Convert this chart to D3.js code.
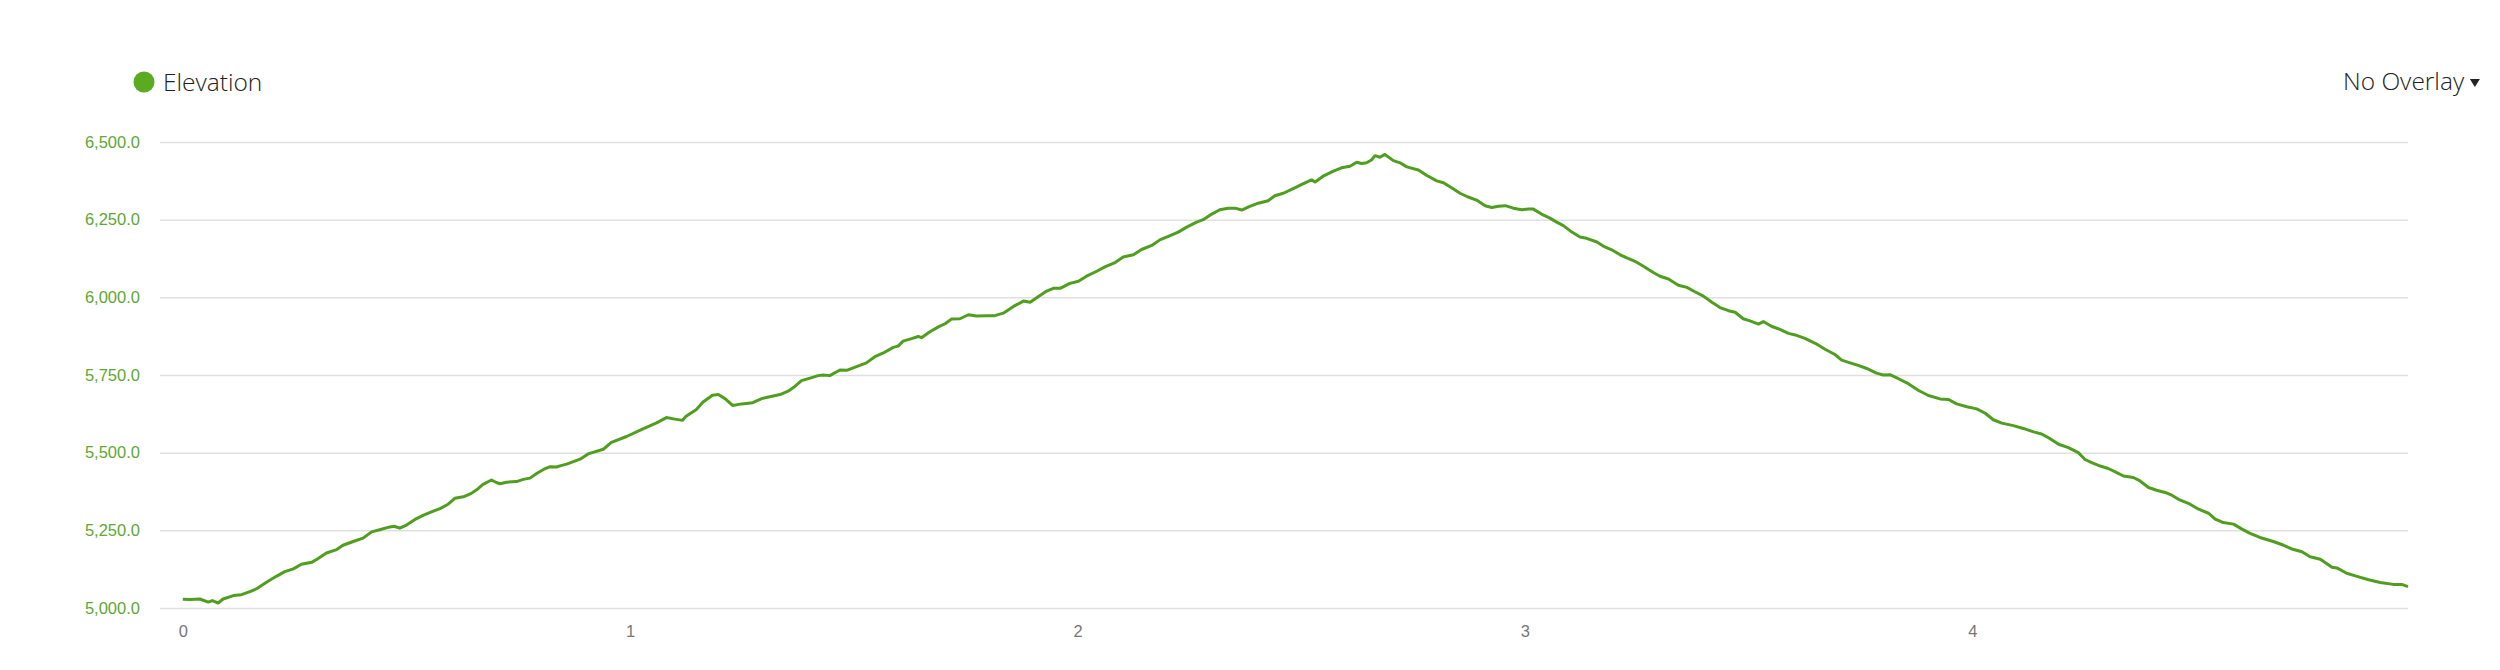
<!DOCTYPE html>
<html>
<head>
<meta charset="utf-8">
<script src="https://cdn.jsdelivr.net/npm/d3@7"></script>
<style>
  body { margin: 0; background: #fff; }
  svg { display: block; }
</style>
</head>
<body>
<svg id="chart" width="2500" height="670"></svg>
<script>
// distance along the trail (miles)
const miles = [
  0.000, 0.016, 0.038, 0.057, 0.066, 0.079, 0.090, 0.113, 0.131, 0.150, 0.165, 0.187, 0.209, 0.228, 0.247,
  0.265, 0.288, 0.299, 0.321, 0.344, 0.358, 0.381, 0.403, 0.422, 0.440, 0.463, 0.472, 0.485, 0.500, 0.519,
  0.537, 0.560, 0.575, 0.593, 0.608, 0.627, 0.645, 0.660, 0.671, 0.690, 0.701, 0.709, 0.724, 0.746, 0.761,
  0.776, 0.791, 0.809, 0.821, 0.835, 0.847, 0.858,
  0.888, 0.906, 0.940, 0.958, 0.992, 1.025, 1.059, 1.081, 1.100, 1.117, 1.125, 1.148, 1.163, 1.184, 1.197,
  1.212, 1.229, 1.249, 1.274, 1.294, 1.312, 1.335, 1.353, 1.368, 1.383, 1.402, 1.420, 1.432, 1.446, 1.469,
  1.484, 1.506, 1.528, 1.547, 1.566, 1.588, 1.599, 1.610, 1.629, 1.644, 1.651, 1.670, 1.689, 1.704, 1.718,
  1.737, 1.756, 1.774, 1.797, 1.815, 1.834, 1.856, 1.879, 1.894, 1.912, 1.931, 1.946, 1.961, 1.983, 2.002,
  2.020, 2.043, 2.061, 2.084, 2.102, 2.125, 2.143, 2.166, 2.184, 2.207, 2.225, 2.244, 2.266, 2.281, 2.300,
  2.318, 2.337, 2.352, 2.367, 2.385, 2.404, 2.426, 2.441, 2.460, 2.482, 2.505, 2.523, 2.531, 2.549, 2.572,
  2.590,
  2.609, 2.624, 2.635, 2.646, 2.657, 2.665, 2.676, 2.687, 2.706, 2.721, 2.736, 2.762, 2.780, 2.803, 2.818,
  2.836, 2.855, 2.873, 2.892, 2.911, 2.926, 2.941, 2.956, 2.974, 2.993, 3.008, 3.019, 3.037, 3.056, 3.071,
  3.086, 3.105, 3.123, 3.138, 3.161, 3.175, 3.194, 3.213, 3.228, 3.246, 3.265, 3.287, 3.302, 3.321, 3.343,
  3.362, 3.380, 3.399, 3.418, 3.436, 3.455,
  3.470, 3.488, 3.503, 3.522, 3.533, 3.552, 3.570, 3.589, 3.604, 3.626, 3.649, 3.671, 3.693, 3.708, 3.727,
  3.745, 3.764, 3.786, 3.801, 3.816, 3.835, 3.857, 3.880, 3.902, 3.928, 3.947, 3.965, 3.988, 4.010, 4.029,
  4.047, 4.066, 4.092, 4.114, 4.137, 4.155, 4.174, 4.193, 4.215, 4.237, 4.252, 4.267, 4.286, 4.304,
  4.323, 4.338, 4.360, 4.375, 4.394, 4.412, 4.431, 4.446, 4.461, 4.483, 4.506, 4.528, 4.543, 4.561, 4.584,
  4.603, 4.621, 4.643, 4.673, 4.696, 4.714, 4.737, 4.755, 4.778, 4.804, 4.815, 4.837, 4.860, 4.886, 4.912,
  4.941, 4.960, 4.974
];

// elevation (ft)
const elevation = [
  5028, 5027, 5029, 5019, 5024, 5016, 5029, 5040, 5043, 5053, 5062, 5083, 5102, 5117, 5126,
  5141, 5147, 5156, 5177, 5188, 5202, 5214, 5225, 5245, 5252, 5261, 5263, 5257, 5267, 5285,
  5298, 5312, 5320, 5334, 5353, 5358, 5369, 5384, 5398, 5412, 5404, 5400, 5405, 5407, 5414,
  5418, 5433, 5448, 5455, 5454, 5459, 5463,
  5479, 5496, 5511, 5533, 5552, 5574, 5596, 5613, 5608, 5604, 5617, 5639, 5663, 5685, 5687,
  5674, 5652, 5657, 5661, 5674, 5680, 5687, 5698, 5713, 5732, 5740, 5748, 5750, 5748, 5766,
  5765, 5777, 5789, 5809, 5821, 5839, 5843, 5859, 5867, 5874, 5870, 5889, 5905, 5915, 5930,
  5931, 5944, 5940, 5941, 5941, 5949, 5970, 5988, 5984, 6002, 6020, 6029, 6029, 6045, 6052,
  6068, 6084, 6098, 6112, 6130, 6137, 6154, 6167, 6185, 6199, 6210, 6226, 6242, 6250, 6268,
  6282, 6287, 6287, 6281, 6293, 6303, 6311, 6327, 6335, 6350, 6366, 6378, 6371, 6390, 6406,
  6417,
  6422, 6435, 6431, 6433, 6442, 6456, 6451, 6460, 6440, 6433, 6420, 6410, 6393, 6375, 6369,
  6353, 6335, 6323, 6313, 6295, 6289, 6293, 6295, 6287, 6282, 6284, 6284, 6268, 6255, 6242,
  6231, 6210, 6194, 6190, 6178, 6165, 6153, 6137, 6127, 6116, 6100, 6080, 6068, 6059, 6039,
  6032, 6018, 6004, 5984, 5967, 5957,
  5952, 5931, 5924, 5914, 5922, 5906, 5897, 5884, 5879, 5868, 5852, 5833, 5816, 5798, 5789,
  5781, 5771, 5756, 5750, 5751, 5738, 5722, 5700, 5684, 5673, 5671, 5657, 5648, 5641, 5627,
  5606, 5595, 5587, 5578, 5567, 5560, 5545, 5527, 5516, 5500, 5478, 5468, 5457, 5449,
  5436, 5425, 5420, 5409, 5388, 5379, 5372, 5363, 5350, 5337, 5318, 5305, 5286, 5275, 5270,
  5254, 5240, 5227, 5214, 5202, 5190, 5181, 5165, 5157, 5131, 5129, 5112, 5102, 5091, 5082,
  5076, 5076, 5069
];

const yTicks = [5000, 5250, 5500, 5750, 6000, 6250, 6500];
const xTicks = [0, 1, 2, 3, 4];
const seriesName = "Elevation";
const overlayLabel = "No Overlay";

const lineColor = "#4f9e1f";
const labelGreen = "#5ea833";
const gridColor = "#e0e0e0";

let svg = d3.select("#chart");

let plotLeft = 160, plotRight = 2408;
let plotTop = 142, plotBottom = 608;

let xScale = d3.scaleLinear()
    .domain([-0.051, 4.974])
    .range([plotLeft, plotRight]);

let yScale = d3.scaleLinear()
    .domain([5000, 6500])
    .range([plotBottom, plotTop]);

// gridlines
let grid = svg.append("g")
    .attr("transform", "translate(" + plotLeft + ",0)")
    .call(d3.axisLeft(yScale).tickValues(yTicks).tickSize(-(plotRight - plotLeft)).tickFormat(""));
grid.select(".domain").remove();
grid.selectAll("line")
    .attr("stroke", gridColor)
    .attr("stroke-width", 1.5);

// y axis labels
let yAxis = svg.append("g")
    .attr("transform", "translate(140,0)")
    .call(d3.axisLeft(yScale).tickValues(yTicks).tickSize(0).tickPadding(0).tickFormat(d3.format(",.1f")));
yAxis.select(".domain").remove();
yAxis.selectAll("text")
    .style("font-family", "'Liberation Sans', Arial, sans-serif")
    .style("font-size", "16.5px")
    .style("fill", labelGreen);

// x axis labels
let xAxis = svg.append("g")
    .attr("transform", "translate(0," + plotBottom + ")")
    .call(d3.axisBottom(xScale).tickValues(xTicks).tickSize(0).tickPadding(17).tickFormat(d3.format("d")));
xAxis.select(".domain").remove();
xAxis.selectAll("text")
    .style("font-family", "'Liberation Sans', Arial, sans-serif")
    .style("font-size", "16.5px")
    .style("fill", "#777");

// elevation line
let points = miles.map(function(m, i) { return [m, elevation[i]]; });
let line = d3.line()
    .x(function(d) { return xScale(d[0]); })
    .y(function(d) { return yScale(d[1]); });

svg.append("path")
    .datum(points)
    .attr("fill", "none")
    .attr("stroke", lineColor)
    .attr("stroke-width", 3)
    .attr("stroke-linejoin", "round")
    .attr("d", line);

// legend
svg.append("circle")
    .attr("cx", 144)
    .attr("cy", 82)
    .attr("r", 10.5)
    .attr("fill", "#5aab22");

svg.append("text")
    .attr("x", 163)
    .attr("y", 91)
    .style("font-family", "'Open Sans', sans-serif")
    .style("font-weight", 300)
    .style("font-size", "24.5px")
    .style("fill", "#222")
    .text(seriesName);

// overlay dropdown
let overlay = svg.append("text")
    .attr("x", 2343)
    .attr("y", 90)
    .style("font-family", "'Open Sans', sans-serif")
    .style("font-weight", 300)
    .style("font-size", "24.5px")
    .style("fill", "#222")
    .text(overlayLabel);

let ob = overlay.node().getBBox();
let tx = ob.x + ob.width + 5;
svg.append("path")
    .attr("d", "M" + tx + ",79 L" + (tx + 10) + ",79 L" + (tx + 5) + ",87 Z")
    .attr("fill", "#222");
</script>
</body>
</html>
